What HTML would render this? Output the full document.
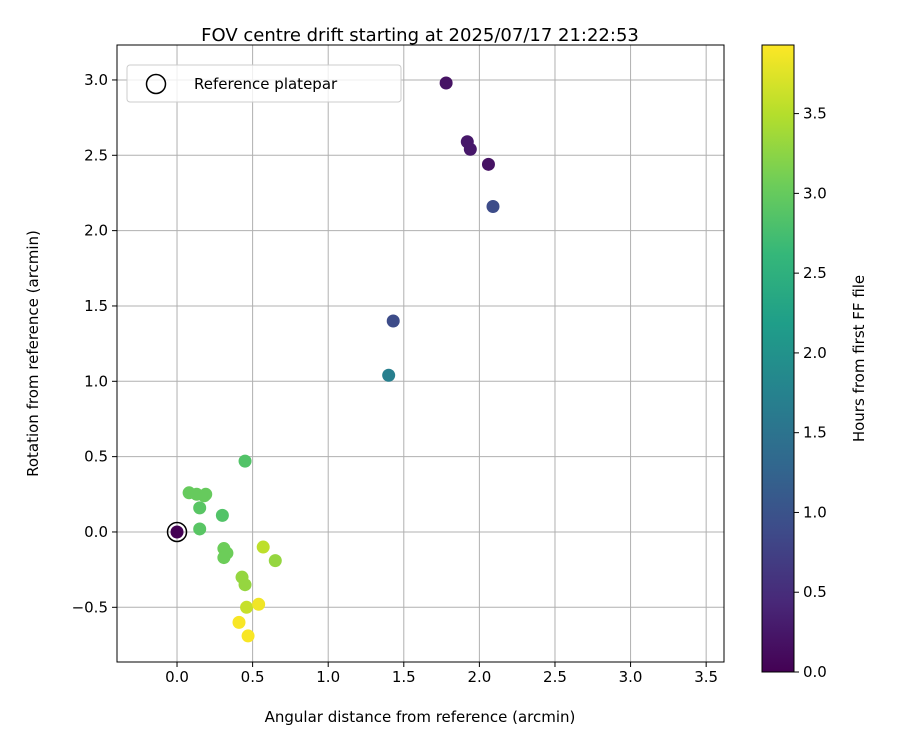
<!DOCTYPE html>
<html><head><meta charset="utf-8"><style>
body{margin:0;background:#fff;font-family:"Liberation Sans","DejaVu Sans",sans-serif}
svg text{font-family:"DejaVu Sans","Liberation Sans",sans-serif;fill:#000}
</style></head><body>
<svg id="c" width="900" height="750" viewBox="0 0 900 750"></svg>
<script>
const xs=[1.78,1.92,1.94,2.06,2.09,1.43,1.40,0.45,0.08,0.13,0.18,0.19,0.15,0.30,0.15,0.00,0.31,0.33,0.31,0.57,0.65,0.43,0.45,0.46,0.54,0.41,0.47];
const ys=[2.98,2.59,2.54,2.44,2.16,1.40,1.04,0.47,0.26,0.25,0.24,0.25,0.16,0.11,0.02,0.00,-0.11,-0.14,-0.17,-0.10,-0.19,-0.30,-0.35,-0.50,-0.48,-0.60,-0.69];
const hours=[0.2,0.25,0.25,0.2,0.9,0.9,1.7,2.85,3.0,3.0,3.0,3.0,2.9,2.85,2.9,0.0,3.05,3.05,3.05,3.55,3.3,3.3,3.3,3.6,3.85,3.9,3.9];
const xTicks=[0.0,0.5,1.0,1.5,2.0,2.5,3.0,3.5];
const yTicks=[-0.5,0.0,0.5,1.0,1.5,2.0,2.5,3.0];
const cTicks=[0.0,0.5,1.0,1.5,2.0,2.5,3.0,3.5];
const X0=-0.397,X1=3.618,Y0=-0.863,Y1=3.232,L=117,R=724,T=45,B=662;
const CMAX=3.93,CL=762,CR=794;
const sx=v=>L+(v-X0)/(X1-X0)*(R-L), sy=v=>B-(v-Y0)/(Y1-Y0)*(B-T), sc=v=>672-(v/CMAX)*(672-T);
const vir=[[68,1,84],[72,40,120],[62,74,137],[49,104,142],[38,130,142],[31,158,137],[53,183,121],[109,205,89],[180,222,44],[253,231,37]];
function col(h){let t=Math.max(0,Math.min(1,h/CMAX))*9,i=Math.min(8,Math.floor(t)),f=t-i;const a=vir[i],b=vir[i+1];return `rgb(${a.map((v,k)=>Math.round(v+(b[k]-v)*f)).join(',')})`;}
const svg=document.getElementById('c'),NS='http://www.w3.org/2000/svg';
function el(tag,attrs,parent,txt){const e=document.createElementNS(NS,tag);for(const k in attrs)e.setAttribute(k,attrs[k]);if(txt!==undefined)e.textContent=txt;(parent||svg).appendChild(e);return e;}
const fmt=v=>(v<0?'\u22120':'')+(v<0?Math.abs(v).toFixed(1).slice(1):v.toFixed(1));
const grid=el('g',{});
xTicks.forEach(v=>{const x=sx(v);el('line',{x1:x,x2:x,y1:T,y2:B,stroke:'#b0b0b0','stroke-width':1},grid);
 const t=el('line',{x1:x,x2:x,y1:B,y2:B+5,stroke:'#000'});
 const tx=el('text',{x:x,y:B+20,'text-anchor':'middle','font-size':15},svg,v.toFixed(1));});
yTicks.forEach(v=>{const y=sy(v);el('line',{x1:L,x2:R,y1:y,y2:y,stroke:'#b0b0b0','stroke-width':1},grid);
 el('line',{x1:L-5,x2:L,y1:y,y2:y,stroke:'#000'});
 const tx=el('text',{x:L-9,y:y+5,'text-anchor':'end','font-size':15},svg,v<0?'\u2212'+Math.abs(v).toFixed(1):v.toFixed(1));});
const pts=el('g',{});
xs.forEach((v,i)=>{const c=el('circle',{cx:sx(v),cy:sy(ys[i]),r:6.5,fill:col(hours[i])},pts);});
const ref=el('circle',{cx:sx(0),cy:sy(0),r:9.5,fill:'none',stroke:'#000','stroke-width':1.5});
const fr=el('rect',{x:L,y:T,width:R-L,height:B-T,fill:'none',stroke:'#000','stroke-width':1});
const lg=el('g',{});
el('rect',{x:127,y:65,width:274,height:37,rx:3,fill:'#fff','fill-opacity':0.8,stroke:'#ccc'},lg);
el('circle',{cx:156,cy:84,r:9.5,fill:'none',stroke:'#000','stroke-width':1.5},lg);
el('text',{x:194,y:89,'font-size':15},lg,'Reference platepar');
const ti=el('text',{x:420,y:41,'text-anchor':'middle','font-size':18},svg,'FOV centre drift starting at 2025/07/17 21:22:53');
const xl=el('text',{x:420,y:722,'text-anchor':'middle','font-size':15},svg,'Angular distance from reference (arcmin)');
const yl=el('text',{x:0,y:0,'text-anchor':'middle','font-size':15,transform:`translate(38,${(T+B)/2}) rotate(-90)`},svg,'Rotation from reference (arcmin)');
// colorbar
const defs=el('defs',{});const gr=el('linearGradient',{id:'vg',x1:0,y1:1,x2:0,y2:0},defs);
vir.forEach((c,i)=>el('stop',{offset:(i/9*100)+'%','stop-color':`rgb(${c.join(',')})`},gr));
const cb=el('rect',{x:CL,y:T,width:CR-CL,height:672-T,fill:'url(#vg)',stroke:'#000'});
cTicks.forEach(v=>{const y=sc(v);el('line',{x1:CR,x2:CR+5,y1:y,y2:y,stroke:'#000'});
 const tx=el('text',{x:CR+9,y:y+5,'font-size':15},svg,v.toFixed(1));});
const cl=el('text',{x:0,y:0,'text-anchor':'middle','font-size':15,transform:`translate(864,${(T+672)/2}) rotate(-90)`},svg,'Hours from first FF file');
</script>
</body></html>
